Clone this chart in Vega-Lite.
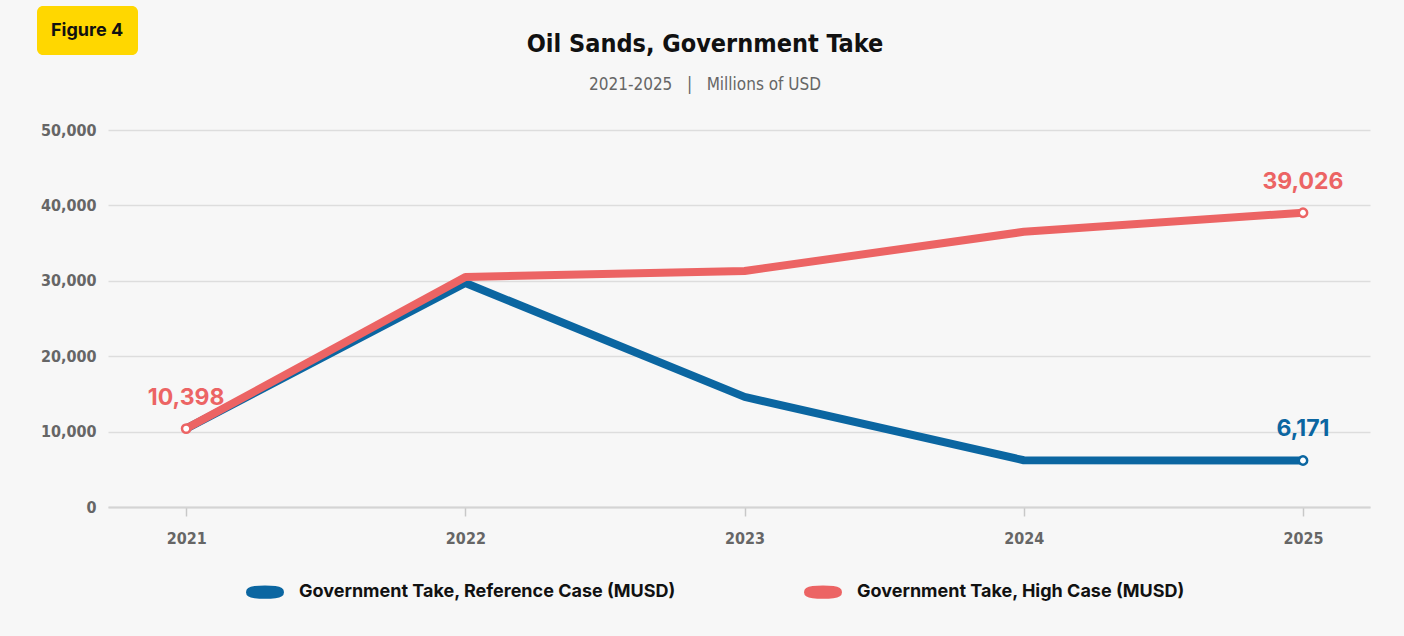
{
  "$schema": "https://vega.github.io/schema/vega-lite/v6.json",
  "background": "#f7f7f7",
  "padding": {"left": 37, "top": 6, "right": 34, "bottom": 35},
  "width": 1262,
  "height": 377,
  "config": {
    "view": {"stroke": null},
    "font": "DejaVu Sans Condensed"
  },
  "title": {
    "text": "Oil Sands, Government Take",
    "subtitle": "2021-2025\u00a0\u00a0\u00a0|\u00a0\u00a0\u00a0Millions of USD",
    "anchor": "middle",
    "dx": -34,
    "font": "DejaVu Sans Condensed",
    "fontSize": 25,
    "fontWeight": "bold",
    "color": "#111111",
    "subtitleFont": "DejaVu Sans Condensed",
    "subtitleFontSize": 17,
    "subtitleFontWeight": "normal",
    "subtitleColor": "#666666",
    "subtitlePadding": 20,
    "offset": -87
  },
  "layer": [
    {
      "data": {
        "values": [
          {"year": 2021, "series": "Government Take, Reference Case (MUSD)", "value": 10398, "label": ""},
          {"year": 2022, "series": "Government Take, Reference Case (MUSD)", "value": 29700, "label": ""},
          {"year": 2023, "series": "Government Take, Reference Case (MUSD)", "value": 14600, "label": ""},
          {"year": 2024, "series": "Government Take, Reference Case (MUSD)", "value": 6200, "label": ""},
          {"year": 2025, "series": "Government Take, Reference Case (MUSD)", "value": 6171, "label": "6,171"},
          {"year": 2021, "series": "Government Take, High Case (MUSD)", "value": 10398, "label": "10,398"},
          {"year": 2022, "series": "Government Take, High Case (MUSD)", "value": 30500, "label": ""},
          {"year": 2023, "series": "Government Take, High Case (MUSD)", "value": 31300, "label": ""},
          {"year": 2024, "series": "Government Take, High Case (MUSD)", "value": 36500, "label": ""},
          {"year": 2025, "series": "Government Take, High Case (MUSD)", "value": 39026, "label": "39,026"}
        ]
      },
      "encoding": {
        "x": {
          "field": "year",
          "type": "quantitative",
          "scale": {"domain": [2020.72, 2025.24], "nice": false, "zero": false},
          "axis": {
            "title": null,
            "values": [2021, 2022, 2023, 2024, 2025],
            "format": "d",
            "grid": false,
            "domainColor": "#d4d4d4",
            "domainWidth": 2,
            "tickColor": "#c8c8c8",
            "tickWidth": 1.5,
            "tickSize": 9,
            "labelFont": "DejaVu Sans Condensed",
            "labelFontWeight": "bold",
            "labelFontSize": 16,
            "labelColor": "#666666",
            "labelPadding": 14
          }
        },
        "y": {
          "field": "value",
          "type": "quantitative",
          "scale": {"domain": [0, 50000], "nice": false},
          "axis": {
            "title": null,
            "values": [0, 10000, 20000, 30000, 40000, 50000],
            "format": ",d",
            "domain": false,
            "ticks": false,
            "gridColor": "#dddddd",
            "gridWidth": 1.5,
            "labelFont": "DejaVu Sans Condensed",
            "labelFontWeight": "bold",
            "labelFontSize": 16,
            "labelColor": "#666666",
            "labelPadding": 12
          }
        },
        "color": {
          "field": "series",
          "type": "nominal",
          "scale": {
            "domain": ["Government Take, Reference Case (MUSD)", "Government Take, High Case (MUSD)"],
            "range": ["#0b66a1", "#ec6464"]
          },
          "legend": {
            "title": null,
            "orient": "none",
            "legendX": 132,
            "legendY": 437,
            "direction": "horizontal",
            "labelFont": "Inter",
            "labelFontWeight": "bold",
            "labelFontSize": 18,
            "labelColor": "#111111",
            "labelLimit": 500,
            "columnPadding": 113,
            "symbolType": "M-0.7,0 A0.7,0.08 0 1 1 0.7,0 A0.7,0.08 0 1 1 -0.7,0 Z",
            "symbolSize": 1600,
            "symbolStrokeWidth": 10,
            "labelOffset": 9
          }
        }
      },
      "layer": [
        {
          "mark": {"type": "line", "strokeWidth": 8, "strokeJoin": "round"},
          "encoding": {}
        },
        {
          "transform": [{"filter": "datum.label != ''"}],
          "mark": {"type": "point", "shape": "circle", "filled": false, "fill": "white", "size": 70, "strokeWidth": 2.5, "opacity": 1},
          "encoding": {
            "color": {"value": "white"},
            "stroke": {
              "field": "series",
              "type": "nominal",
              "scale": {
                "domain": ["Government Take, Reference Case (MUSD)", "Government Take, High Case (MUSD)"],
                "range": ["#0b66a1", "#ec6464"]
              },
              "legend": null
            }
          }
        },
        {
          "transform": [{"filter": "datum.label != ''"}],
          "mark": {"type": "text", "font": "Inter", "fontWeight": "bold", "fontSize": 23, "dy": -24, "baseline": "alphabetic"},
          "encoding": {"text": {"field": "label"}}
        }
      ]
    },
    {
      "data": {"values": [{"badge": "Figure 4"}]},
      "mark": {"type": "point", "opacity": 0},
      "encoding": {
        "shape": {
          "field": "badge",
          "type": "nominal",
          "legend": {
            "title": null,
            "orient": "none",
            "legendX": -71,
            "legendY": -124,
            "fillColor": "#FFD700",
            "cornerRadius": 6,
            "padding": 14,
            "clipHeight": 21,
            "symbolSize": 1,
            "symbolOpacity": 0,
            "symbolStrokeWidth": 0,
            "labelOffset": -18,
            "labelFont": "Inter",
            "labelFontWeight": "bold",
            "labelFontSize": 18,
            "labelColor": "#111111"
          }
        }
      }
    }
  ]
}
